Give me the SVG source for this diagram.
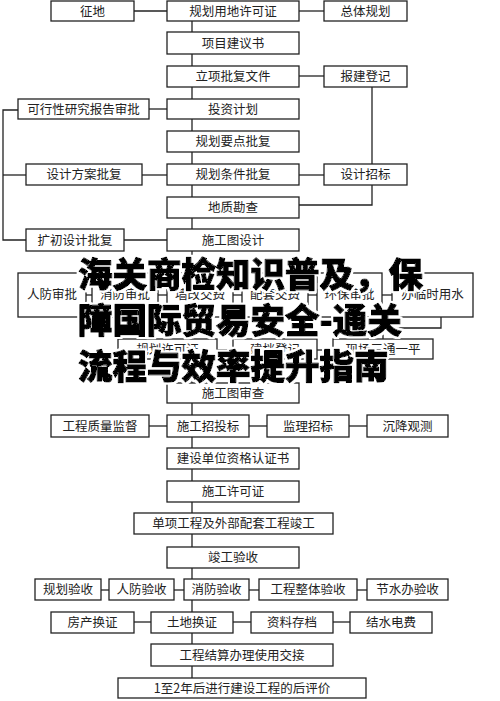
<svg xmlns="http://www.w3.org/2000/svg" width="500" height="701" viewBox="0 0 500 701">
<defs>
<filter id="halo" x="-5%" y="-20%" width="110%" height="140%">
<feMorphology in="SourceAlpha" operator="dilate" radius="2" result="d"/>
<feFlood flood-color="#fff"/>
<feComposite in2="d" operator="in" result="w"/>
<feMerge><feMergeNode in="w"/><feMergeNode in="SourceGraphic"/></feMerge>
</filter>
</defs>
<style>
.b rect{fill:#fff;stroke:#222;stroke-width:1.3}
.b text{font-family:"Noto Sans CJK SC","Liberation Sans",sans-serif;font-size:12.5px;fill:#222;text-anchor:middle}
#conn line,#conn polyline{stroke:#222;stroke-width:1.3;fill:none}
.wm{font-family:"Noto Sans CJK SC",sans-serif;font-weight:900;font-size:34.5px;fill:#000;stroke:#000;stroke-width:1.2;stroke-linejoin:round}
</style>
<rect width="500" height="701" fill="#fff"/>
<g id="conn">
<line x1="192" y1="21" x2="192" y2="678"/>
<line x1="134" y1="11" x2="167" y2="11"/>
<line x1="299" y1="11" x2="324" y2="11"/>
<line x1="299" y1="76" x2="324" y2="76"/>
<line x1="372" y1="87" x2="372" y2="164"/>
<line x1="149" y1="109" x2="167" y2="109"/>
<polyline points="18,110 3,110 3,240 26,240"/>
<line x1="3" y1="175" x2="26" y2="175"/>
<line x1="142" y1="175" x2="167" y2="175"/>
<line x1="299" y1="175" x2="324" y2="175"/>
<polyline points="299,205 372,205 372,185"/>
<line x1="124" y1="240" x2="167" y2="240"/>
<line x1="86" y1="295" x2="92" y2="295"/>
<line x1="158" y1="295" x2="167" y2="295"/>
<line x1="233" y1="295" x2="242" y2="295"/>
<line x1="308" y1="295" x2="317" y2="295"/>
<line x1="382" y1="295" x2="392" y2="295"/>
<polyline points="441,317 441,328 383,328 383,339"/>
<line x1="217" y1="350" x2="233" y2="350"/>
<line x1="317" y1="350" x2="333" y2="350"/>
<line x1="149" y1="426" x2="167" y2="426"/>
<line x1="249" y1="426" x2="267" y2="426"/>
<line x1="349" y1="426" x2="367" y2="426"/>
<line x1="101" y1="590" x2="109" y2="590"/>
<line x1="174" y1="590" x2="184" y2="590"/>
<line x1="249" y1="590" x2="259" y2="590"/>
<line x1="357" y1="590" x2="367" y2="590"/>
<line x1="134" y1="622" x2="151" y2="622"/>
<line x1="233" y1="622" x2="251" y2="622"/>
<line x1="333" y1="622" x2="350" y2="622"/>
</g>
<g id="n1" class="b"><rect x="51" y="1" width="83" height="20"/><text x="92.5" y="15.5">征地</text></g>
<g id="n2" class="b"><rect x="167" y="1" width="132" height="20"/><text x="233" y="15.5">规划用地许可证</text></g>
<g id="n3" class="b"><rect x="324" y="1" width="83" height="20"/><text x="365.5" y="15.5">总体规划</text></g>
<g id="n4" class="b"><rect x="167" y="32" width="132" height="22"/><text x="233" y="47.5">项目建议书</text></g>
<g id="n5" class="b"><rect x="167" y="66" width="132" height="21"/><text x="233" y="81">立项批复文件</text></g>
<g id="n6" class="b"><rect x="324" y="66" width="83" height="21"/><text x="365.5" y="81">报建登记</text></g>
<g id="n7" class="b"><rect x="18" y="99" width="131" height="20"/><text x="83.5" y="113.5">可行性研究报告审批</text></g>
<g id="n8" class="b"><rect x="167" y="99" width="132" height="20"/><text x="233" y="113.5">投资计划</text></g>
<g id="n9" class="b"><rect x="167" y="131" width="132" height="21"/><text x="233" y="146">规划要点批复</text></g>
<g id="n10" class="b"><rect x="26" y="164" width="116" height="21"/><text x="84" y="179">设计方案批复</text></g>
<g id="n11" class="b"><rect x="167" y="164" width="132" height="21"/><text x="233" y="179">规划条件批复</text></g>
<g id="n12" class="b"><rect x="324" y="164" width="83" height="21"/><text x="365.5" y="179">设计招标</text></g>
<g id="n13" class="b"><rect x="167" y="197" width="132" height="21"/><text x="233" y="212">地质勘查</text></g>
<g id="n14" class="b"><rect x="26" y="229" width="98" height="22"/><text x="75" y="244.5">扩初设计批复</text></g>
<g id="n15" class="b"><rect x="167" y="229" width="132" height="22"/><text x="233" y="244.5">施工图设计</text></g>
<g id="n16" class="b"><rect x="18" y="273" width="68" height="44"/><text x="52" y="299">人防审批</text></g>
<g id="n17" class="b"><rect x="92" y="273" width="66" height="44"/><text x="125" y="299">消防审批</text></g>
<g id="n18" class="b"><rect x="167" y="273" width="66" height="44"/><text x="200" y="299">墙改交费</text></g>
<g id="n19" class="b"><rect x="242" y="273" width="66" height="44"/><text x="275" y="299">配套交费</text></g>
<g id="n20" class="b"><rect x="317" y="273" width="65" height="44"/><text x="349.5" y="299">环保审批</text></g>
<g id="n21" class="b"><rect x="392" y="273" width="81" height="44"/><text x="432.5" y="299">办临时用水</text></g>
<g id="n22" class="b"><rect x="118" y="339" width="99" height="20"/><text x="167.5" y="353.5">规划许可证</text></g>
<g id="n23" class="b"><rect x="233" y="339" width="84" height="20"/><text x="275" y="353.5">建档登记</text></g>
<g id="n24" class="b"><rect x="333" y="339" width="100" height="20"/><text x="383" y="353.5">现场三通一平</text></g>
<g id="n25" class="b"><rect x="167" y="383" width="132" height="20"/><text x="233" y="397.5">施工图审查</text></g>
<g id="n26" class="b"><rect x="51" y="415" width="98" height="22"/><text x="100" y="430.5">工程质量监督</text></g>
<g id="n27" class="b"><rect x="167" y="415" width="82" height="22"/><text x="208" y="430.5">施工招投标</text></g>
<g id="n28" class="b"><rect x="267" y="415" width="82" height="22"/><text x="308" y="430.5">监理招标</text></g>
<g id="n29" class="b"><rect x="367" y="415" width="81" height="22"/><text x="407.5" y="430.5">沉降观测</text></g>
<g id="n30" class="b"><rect x="167" y="448" width="132" height="21"/><text x="233" y="463">建设单位资格认证书</text></g>
<g id="n31" class="b"><rect x="167" y="481" width="132" height="21"/><text x="233" y="496">施工许可证</text></g>
<g id="n32" class="b"><rect x="134" y="513" width="199" height="21"/><text x="233.5" y="528">单项工程及外部配套工程竣工</text></g>
<g id="n33" class="b"><rect x="167" y="547" width="132" height="21"/><text x="233" y="562">竣工验收</text></g>
<g id="n34" class="b"><rect x="35" y="579" width="66" height="21"/><text x="68" y="594">规划验收</text></g>
<g id="n35" class="b"><rect x="109" y="579" width="65" height="21"/><text x="141.5" y="594">人防验收</text></g>
<g id="n36" class="b"><rect x="184" y="579" width="65" height="21"/><text x="216.5" y="594">消防验收</text></g>
<g id="n37" class="b"><rect x="259" y="579" width="98" height="21"/><text x="308" y="594">工程整体验收</text></g>
<g id="n38" class="b"><rect x="367" y="579" width="81" height="21"/><text x="407.5" y="594">节水办验收</text></g>
<g id="n39" class="b"><rect x="51" y="612" width="83" height="21"/><text x="92.5" y="627">房产换证</text></g>
<g id="n40" class="b"><rect x="151" y="612" width="82" height="21"/><text x="192" y="627">土地换证</text></g>
<g id="n41" class="b"><rect x="251" y="612" width="82" height="21"/><text x="292" y="627">资料存档</text></g>
<g id="n42" class="b"><rect x="350" y="612" width="82" height="21"/><text x="391" y="627">结水电费</text></g>
<g id="n43" class="b"><rect x="151" y="644" width="182" height="22"/><text x="242" y="659.5">工程结算办理使用交接</text></g>
<g id="n44" class="b"><rect x="118" y="678" width="248" height="20"/><text x="242" y="692.5">1至2年后进行建设工程的后评价</text></g>
<g id="title" class="wm" filter="url(#halo)">
<text x="78" y="287">海关商检知识普及，保</text>
<text x="78" y="333">障国际贸易安全-通关</text>
<text x="78" y="379">流程与效率提升指南</text>
</g>
</svg>
